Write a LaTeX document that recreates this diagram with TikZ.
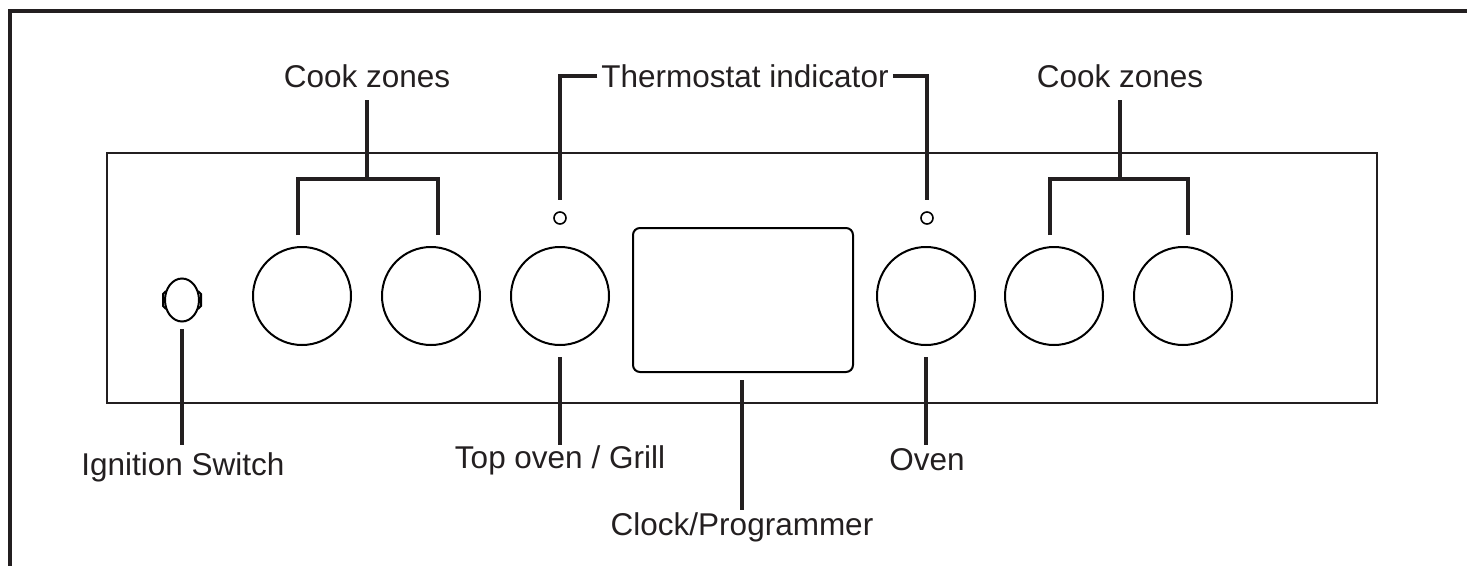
\documentclass[tikz,border=0pt]{standalone}
\usepackage{fontspec}
\setmainfont{Liberation Sans}
\usetikzlibrary{shapes.geometric}
\definecolor{ink}{RGB}{35,31,32}
\begin{document}
\begin{tikzpicture}[x=1pt,y=-1pt,
  lbl/.style={inner sep=0pt,text=ink,font=\fontsize{31.5}{36}\selectfont},
  leader/.style={draw=ink,line width=3.2pt},
  knob/.style={circle,draw=black,line width=2pt,minimum size=98pt,inner sep=0pt},
  lamp/.style={circle,draw=black,line width=1.6pt,minimum size=12pt,inner sep=0pt},
  panel/.style={draw=ink,line width=2pt},
  frame/.style={draw=ink,line width=3.6pt}]
\useasboundingbox (0,0) rectangle (1467,565);
% outer frame (cropped)
\coordinate (fbl) at (10,567);
\coordinate (ftl) at (10,11);
\coordinate (ftr) at (1469,11);
\draw[frame] (fbl) -- (ftl) -- (ftr);
% panel
\draw[panel] (107,153) rectangle (1377,403);
% display
\node[draw=black,line width=2pt,rounded corners=7pt,minimum width=220pt,minimum height=144pt,inner sep=0pt] (disp) at (743,300) {};
% knobs
\node[knob] (k1) at (302,296) {};
\node[knob] (k2) at (431,296) {};
\node[knob] (k3) at (560,296) {};
\node[knob] (k4) at (926,296) {};
\node[knob] (k5) at (1054,296) {};
\node[knob] (k6) at (1183,296) {};
% indicators
\node[lamp] (l1) at (560,218) {};
\node[lamp] (l2) at (927,218) {};
% ignition switch
\node[ellipse,draw=black,line width=2pt,minimum width=34pt,minimum height=43pt,inner sep=0pt] (ign) at (182,300) {};
\draw[black,line width=2pt] (166,291) -- (163,294) -- (163,306) -- (166,309);
\draw[black,line width=2pt] (198,291) -- (201,294) -- (201,306) -- (198,309);
% labels
\node[lbl] (cz1) at (367,76) {Cook zones};
\node[lbl] (th) at (745,76) {Thermostat indicator};
\node[lbl] (cz2) at (1120,76) {Cook zones};
\node[lbl] (is) at (183,467) {Ignition Switch};
\node[lbl] (tg) at (560,460) {Top oven / Grill};
\node[lbl] (ov) at (927,460) {Oven};
\node[lbl] (cp) at (742,527) {Clock/Programmer};
% cook zone brackets
\coordinate (s1) at (367,100);
\coordinate (b1) at (367,179);
\draw[leader] (s1) -- (b1);
\draw[leader] (298,235) -- (298,179) -- (438,179) -- (438,235);
\coordinate (s2) at (1120,100);
\coordinate (b2) at (1120,179);
\draw[leader] (s2) -- (b2);
\draw[leader] (1050,235) -- (1050,179) -- (1188,179) -- (1188,235);
% thermostat leaders
\coordinate (t1) at (560,200);
\coordinate (t2) at (927,200);
\draw[leader] (th.west) ++(-4,0) -- (560,76) -- (t1);
\draw[leader] (th.east) ++(4,0) -- (927,76) -- (t2);
% bottom leaders
\coordinate (ia) at (182,329);
\coordinate (ib) at (182,445);
\draw[leader] (ia) -- (ib);
\coordinate (ka) at (560,357);
\coordinate (kb) at (560,445);
\draw[leader] (ka) -- (kb);
\coordinate (oa) at (926,357);
\coordinate (ob) at (926,445);
\draw[leader] (oa) -- (ob);
\coordinate (ca) at (742,380);
\coordinate (cb) at (742,510);
\draw[leader] (ca) -- (cb);
\end{tikzpicture}
\end{document}
